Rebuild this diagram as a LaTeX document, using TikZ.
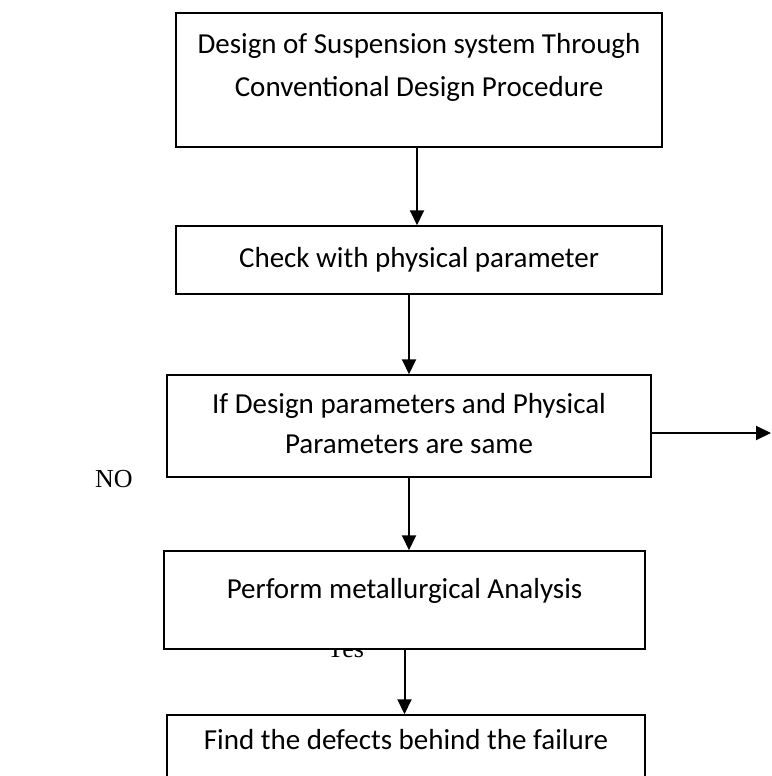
\documentclass[tikz,border=0pt]{standalone}
\usepackage{fontspec}
\setmainfont{Carlito}
\newfontfamily\timesfont{Liberation Serif}
\usetikzlibrary{arrows.meta, positioning}

\begin{document}
\begin{tikzpicture} [
    x=1pt, y=-1pt,
    stepbox/.style = {draw, line width=1.5pt, fill=white, align=center,
        inner sep=0pt, font=\fontsize{29}{40}\selectfont},
    flow/.style = {line width=2pt, -{Triangle[length=15pt, width=14pt]}},
    answer/.style = {font=\timesfont\fontsize{26}{30}\selectfont, inner sep=0pt}]
    \useasboundingbox (0,0) rectangle (771,776);
    % \draw [help lines] (0,0) grid (771,776);
    \node (yes) [answer, anchor=base] at (345,657) {Yes};
    \node (no) [answer, anchor=base west] at (95,487) {NO};
    \node (s1) [stepbox, minimum width=486, minimum height=134] at (419,80)
        {Design of Suspension system Through\\[3pt]Conventional Design Procedure\\[-10pt]\mbox{}};
    \node (s2) [stepbox, minimum width=486, minimum height=68] at (419,260)
        {Check with physical parameter};
    \node (s3) [stepbox, minimum width=484, minimum height=102] at (409,426)
        {If Design parameters and Physical\\Parameters are same\\[-34pt]\mbox{}};
    \node (s4) [stepbox, minimum width=481, minimum height=98] at (404.5,600)
        {Perform metallurgical Analysis\\[-16pt]\mbox{}};
    \node (s5) [stepbox, minimum width=478, minimum height=98] at (406,764)
        {Find the defects behind the failure\\[10pt]\mbox{}};
    \coordinate (out) at (771,433);

    \draw [flow] (s1.south -| 417,0) -- (s2.north -| 417,0);
    \draw [flow] (s2.south -| s3.north) -- (s3.north);
    \draw [flow] (s3.south) -- (s3.south |- s4.north);
    \draw [flow] (s4.south) -- (s4.south |- s5.north);
    \draw [flow] (s3.east |- out) -- (out);
\end{tikzpicture}
\end{document}
